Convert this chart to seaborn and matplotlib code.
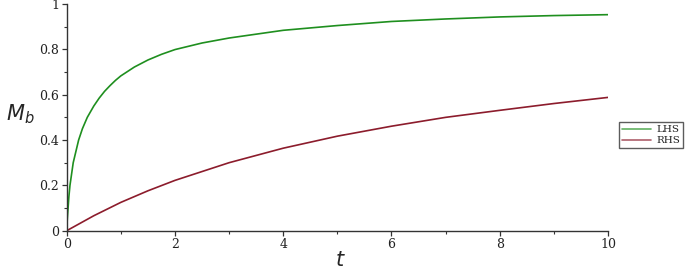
import numpy as np
import pandas as pd
import matplotlib
matplotlib.use('Agg')
import matplotlib.pyplot as plt
import seaborn as sns

# values
t_lhs = [0, 0.01, 0.025, 0.04, 0.06, 0.09, 0.12, 0.17, 0.22, 0.29, 0.38, 0.5, 0.6, 0.7,
         0.8, 0.9, 1.0, 1.25, 1.5, 1.75, 2.0, 2.5, 3.0, 4.0, 5.0, 6.0, 7.0, 8.0, 9.0, 10.0]
m_lhs = [0, 0.05, 0.10, 0.15, 0.20, 0.25, 0.30, 0.35, 0.40, 0.45, 0.50, 0.55, 0.585, 0.615,
         0.64, 0.663, 0.683, 0.722, 0.753, 0.778, 0.799, 0.828, 0.85, 0.884, 0.905, 0.923,
         0.934, 0.943, 0.949, 0.953]

t_rhs = [0, 0.5, 1.0, 1.5, 2.0, 3.0, 4.0, 5.0, 6.0, 7.0, 8.0, 9.0, 10.0]
m_rhs = [0, 0.066, 0.125, 0.176, 0.222, 0.30, 0.364, 0.417, 0.461, 0.50, 0.531, 0.561, 0.588]

series_names = ['LHS', 'RHS']
colors = ['#1f8f1f', '#8c1c2c']

df = pd.concat([
    pd.DataFrame({'t': t_lhs, 'M': m_lhs, 'series': series_names[0]}),
    pd.DataFrame({'t': t_rhs, 'M': m_rhs, 'series': series_names[1]}),
])

sns.set_style('white')
plt.rcParams['mathtext.fontset'] = 'dejavusans'

fig = plt.figure(figsize=(6.85, 2.71), dpi=100)
ax = fig.add_axes([0.0974, 0.1487, 0.7902, 0.8365])

sns.lineplot(data=df, x='t', y='M', hue='series', palette=colors, sort=False,
             estimator=None, linewidth=1.2, ax=ax, legend=False)

ax.set_xlim(0, 10)
ax.set_ylim(0, 1)
ax.set_xticks([0, 2, 4, 6, 8, 10])
ax.set_xticks(np.arange(1, 10, 2), minor=True)
ax.set_yticks([0, 0.2, 0.4, 0.6, 0.8, 1.0])
ax.set_yticklabels(['0', '0.2', '0.4', '0.6', '0.8', '1'])
ax.set_yticks(np.arange(0.1, 1.0, 0.2), minor=True)

for sp in ['top', 'right']:
    ax.spines[sp].set_visible(False)
for sp in ['left', 'bottom']:
    ax.spines[sp].set_color('#333333')
    ax.spines[sp].set_linewidth(1.0)

ax.tick_params(which='major', direction='out', length=3.5, width=0.9, color='#333333',
               labelsize=9, pad=2, left=True, bottom=True)
ax.tick_params(which='minor', direction='out', length=2, width=0.8, color='#333333',
               left=True, bottom=True)
for lab in ax.get_xticklabels() + ax.get_yticklabels():
    lab.set_family('DejaVu Serif')
    lab.set_color('#222222')

ax.set_xlabel(r'$t$', fontsize=15)
ax.set_ylabel(r'$M_b$', fontsize=15, rotation=0)
ax.xaxis.set_label_coords(0.505, -0.085)
ax.yaxis.set_label_coords(-0.086, 0.46)

handles = [plt.Line2D([], [], color=c, alpha=0.7, linewidth=1.2) for c in colors]
leg = fig.legend(handles, series_names, loc='upper left', bbox_to_anchor=(0.9036, 0.55),
                 frameon=True, fancybox=False, shadow=False, handlelength=2.8,
                 prop={'family': 'DejaVu Serif', 'size': 7.5}, borderpad=0.3,
                 labelspacing=0.15, handletextpad=0.5, borderaxespad=0)
leg.get_frame().set_edgecolor('#333333')
leg.get_frame().set_linewidth(1.0)

fig.savefig('out.png', dpi=100)
